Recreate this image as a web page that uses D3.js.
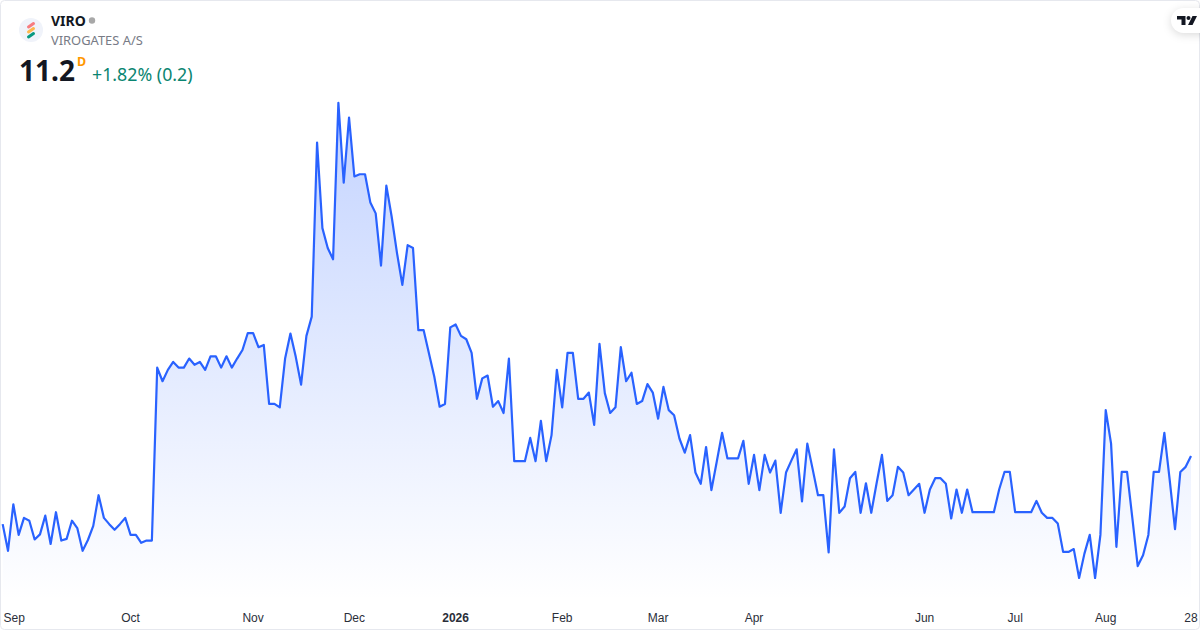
<!DOCTYPE html>
<html>
<head>
<meta charset="utf-8">
<script src="https://d3js.org/d3.v7.min.js"></script>
<style>
    html, body { margin: 0; padding: 0; background: #fff; }
    svg { display: block; font-family: "Noto Sans", "Open Sans", sans-serif; }
    .tick text { font-size: 12px; fill: #2a2e39; }
</style>
</head>
<body>
<div id="chart"></div>
<script>
/* Daily closes, one per trading day */
const closes = [
    10.00, 9.53, 10.35, 9.81, 10.11, 10.06, 9.73, 9.82, 10.15, 9.65,
    10.21, 9.71, 9.74, 10.06, 9.93, 9.53, 9.72, 9.97, 10.51, 10.11,
    10.00, 9.90, 10.00, 10.11, 9.81, 9.81, 9.67, 9.71, 9.71, 12.76,
    12.52, 12.72, 12.86, 12.76, 12.76, 12.92, 12.81, 12.86, 12.72, 12.96,
    12.96, 12.76, 12.96, 12.76, 12.92, 13.07, 13.37, 13.37, 13.12, 13.16,
    12.12, 12.12, 12.06, 12.92, 13.36, 12.95, 12.46, 13.32, 13.66, 16.73,
    15.22, 14.87, 14.67, 17.43, 16.02, 17.17, 16.13, 16.17, 16.17, 15.67,
    15.48, 14.56, 15.97, 15.42, 14.78, 14.22, 14.92, 14.87, 13.42, 13.42,
    13.01, 12.60, 12.07, 12.12, 13.47, 13.52, 13.32, 13.26, 13.02, 12.21,
    12.57, 12.62, 12.07, 12.17, 11.96, 12.92, 11.11, 11.11, 11.11, 11.52,
    11.11, 11.82, 11.11, 11.57, 12.72, 12.06, 13.02, 13.02, 12.21, 12.21,
    12.32, 11.75, 13.18, 12.31, 11.96, 12.06, 13.12, 12.52, 12.67, 12.12,
    12.17, 12.47, 12.32, 11.86, 12.42, 12.01, 11.92, 11.51, 11.26, 11.57,
    10.91, 10.71, 11.36, 10.60, 11.10, 11.61, 11.16, 11.16, 11.16, 11.47,
    10.71, 11.22, 10.60, 11.22, 10.91, 11.12, 10.20, 10.91, 11.12, 11.32,
    10.40, 11.42, 10.97, 10.51, 10.51, 9.50, 11.32, 10.20, 10.31, 10.81,
    10.92, 10.20, 10.72, 10.20, 10.72, 11.22, 10.41, 10.51, 11.01, 10.91,
    10.51, 10.61, 10.71, 10.20, 10.61, 10.81, 10.81, 10.71, 10.10, 10.61,
    10.20, 10.61, 10.21, 10.21, 10.21, 10.21, 10.21, 10.61, 10.92, 10.92,
    10.21, 10.21, 10.21, 10.21, 10.41, 10.20, 10.11, 10.11, 10.01, 9.51,
    9.51, 9.56, 9.05, 9.48, 9.81, 9.05, 9.81, 12.01, 11.42, 9.60,
    10.92, 10.92, 10.10, 9.26, 9.45, 9.81, 10.92, 10.92, 11.61, 10.78,
    9.91, 10.92, 11.01, 11.20
];
const tickLabels = ["Sep", "Oct", "Nov", "Dec", "2026", "Feb", "Mar", "Apr", "Jun", "Jul", "Aug", "28"];
const tickDays = [0, 24, 47, 66, 85, 105, 123, 141, 173, 190, 207, 223];

const width = 1200, height = 630;

const svg = d3.select("#chart").append("svg")
    .attr("width", width)
    .attr("height", height);

/* Outer frame */
svg.append("rect")
    .attr("x", 0.5).attr("y", 0.5)
    .attr("width", width - 1).attr("height", height - 1)
    .attr("rx", 4)
    .attr("fill", "#fff")
    .attr("stroke", "#e6e8ee");

const x = d3.scaleLinear().domain([0, closes.length - 1]).range([2.67, 1191]);
const y = d3.scaleLinear().domain([d3.min(closes), d3.max(closes)]).range([578, 102.8]);
const baseY = 600;

/* Area fill fades out towards the bottom */
const grad = svg.append("defs").append("linearGradient")
    .attr("id", "fade")
    .attr("gradientUnits", "userSpaceOnUse")
    .attr("x1", 0).attr("y1", 102).attr("x2", 0).attr("y2", baseY);
grad.append("stop").attr("offset", 0).attr("stop-color", "#2962ff").attr("stop-opacity", 0.28);
grad.append("stop").attr("offset", 1).attr("stop-color", "#2962ff").attr("stop-opacity", 0);

const area = d3.area()
    .x((d, i) => x(i))
    .y0(baseY)
    .y1(d => y(d));
const line = d3.line()
    .x((d, i) => x(i))
    .y(d => y(d));

svg.append("path").datum(closes)
    .attr("d", area)
    .attr("fill", "url(#fade)");
svg.append("path").datum(closes)
    .attr("d", line)
    .attr("fill", "none")
    .attr("stroke", "#2962ff")
    .attr("stroke-width", 2.2)
    .attr("stroke-linejoin", "round");

/* Time axis */
const axis = svg.append("g")
    .attr("transform", "translate(0,608)")
    .call(d3.axisBottom(x)
        .tickValues(tickDays)
        .tickSize(0)
        .tickPadding(0)
        .tickFormat((d, i) => tickLabels[i]));
axis.select(".domain").remove();
axis.selectAll(".tick text")
    .attr("y", 0)
    .attr("dy", "14px")
    .attr("font-weight", (d, i) => tickLabels[i] === "2026" ? 700 : 400)
    .attr("text-anchor", (d, i) => i === 0 ? "start" : "middle")
    .attr("dx", (d, i) => i === 0 ? 0.3 : -0.5);

/* Symbol logo */
svg.append("circle").attr("cx", 31).attr("cy", 30).attr("r", 12).attr("fill", "#f0f3fa");
[["#f77c80", 27], ["#ffb74d", 32], ["#089981", 37]].forEach(function(b){
    svg.append("line")
        .attr("x1", 28.5).attr("y1", b[1])
        .attr("x2", 33.5).attr("y2", b[1] - 3.5)
        .attr("stroke", b[0])
        .attr("stroke-width", 3)
        .attr("stroke-linecap", "round");
});

/* Header texts */
svg.append("text").attr("x", 51).attr("y", 26)
    .attr("font-size", 14).attr("font-weight", 700).attr("fill", "#131722").text("VIRO");
svg.append("circle").attr("cx", 92).attr("cy", 20.5).attr("r", 3.2).attr("fill", "#a8a8a8");
svg.append("text").attr("x", 51).attr("y", 45)
    .attr("font-size", 12.9).attr("fill", "#787b86").text("VIROGATES A/S");
svg.append("text").attr("x", 19).attr("y", 81)
    .attr("font-size", 28).attr("font-weight", 700).attr("fill", "#131722").text("11.2");
svg.append("text").attr("x", 77).attr("y", 66)
    .attr("font-size", 12.5).attr("font-weight", 700).attr("fill", "#ff9800").text("D");
svg.append("text").attr("x", 92).attr("y", 81)
    .attr("font-size", 17.8).attr("fill", "#0a8571").text("+1.82% (0.2)");

/* TradingView badge */
svg.append("rect")
    .attr("x", 1171).attr("y", 8)
    .attr("width", 50).attr("height", 25)
    .attr("rx", 12.5)
    .attr("fill", "#fff")
    .style("filter", "drop-shadow(0 2px 4px rgba(0,0,0,0.14))");
svg.append("path")
    .attr("d", "M1177 16h8.5v9h-4v-5.5h-4.5z M1192.5 16h4.5l-4.5 9h-4.5z")
    .attr("fill", "#131722");
svg.append("circle").attr("cx", 1188.5).attr("cy", 18).attr("r", 2).attr("fill", "#131722");
</script>
</body>
</html>
